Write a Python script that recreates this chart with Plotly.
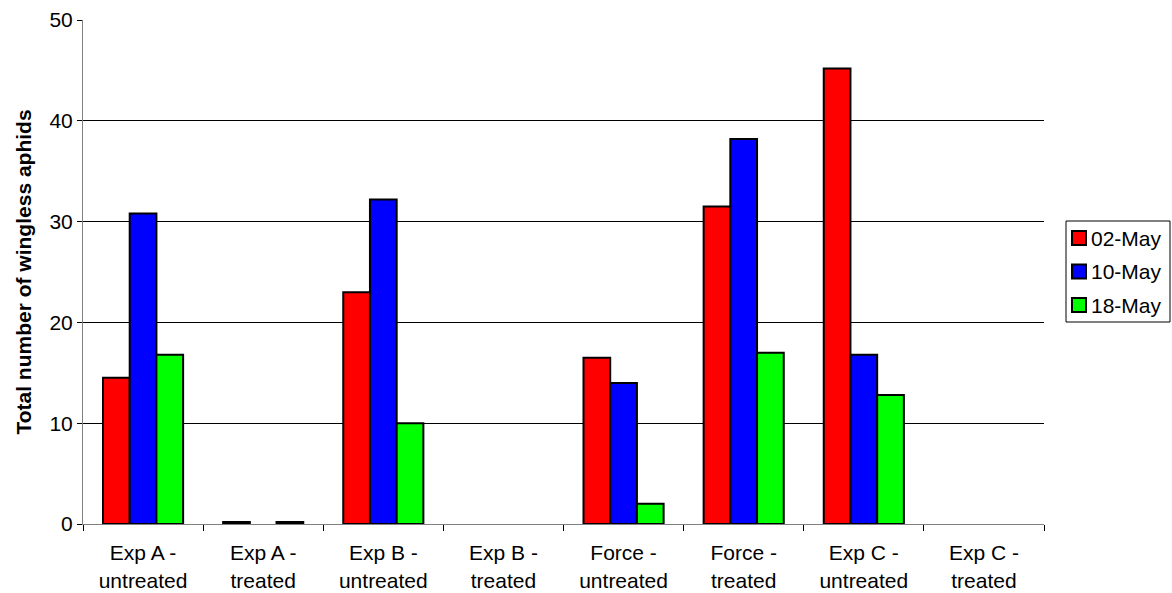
import plotly.graph_objects as go

# Treatment groups (two-line category labels)
categories = [
    "Exp A -<br>untreated", "Exp A -<br>treated",
    "Exp B -<br>untreated", "Exp B -<br>treated",
    "Force -<br>untreated", "Force -<br>treated",
    "Exp C -<br>untreated", "Exp C -<br>treated",
]

# Wingless aphid counts per sampling date
may_02 = [14.5, 0.2, 23.0, 0, 16.5, 31.5, 45.2, 0]
may_10 = [30.8, 0, 32.2, 0, 14.0, 38.2, 16.8, 0]
may_18 = [16.8, 0.2, 10.0, 0, 2.0, 17.0, 12.8, 0]

series_names = ["02-May", "10-May", "18-May"]
series_values = [may_02, may_10, may_18]
series_colours = ["#ff0000", "#0000ff", "#00ff00"]

y_ticks = [0, 10, 20, 30, 40, 50]

FONT = "Liberation Sans, Arial, sans-serif"
W, H = 1172, 593
M_L, M_R, M_T, M_B = 83, 128, 20, 69
PLOT_W = W - M_L - M_R
PLOT_H = H - M_T - M_B


def px_x(px):
    """Page x pixel -> paper coordinate."""
    return (px - M_L) / PLOT_W


def px_y(py):
    """Page y pixel (from top) -> paper coordinate."""
    return (H - M_B - py) / PLOT_H


fig = go.Figure()
for name, values, colour in zip(series_names, series_values, series_colours):
    fig.add_trace(go.Bar(
        x=categories,
        y=values,
        name=name,
        marker=dict(
            color=colour,
            # empty (zero) bars get no outline
            line=dict(color="#000000", width=[2 if v else 0 for v in values]),
        ),
        showlegend=False,
    ))

# Boxed legend on the right: swatch + date label per series
shapes = [dict(
    type="rect", xref="paper", yref="paper",
    x0=px_x(1066), x1=px_x(1170), y0=px_y(322), y1=px_y(221),
    line=dict(color="#000000", width=1), fillcolor="#ffffff", layer="above",
)]
annotations = []
LEG_TOP, LEG_STEP, SW = 238, 33.5, 14
for i, (name, colour) in enumerate(zip(series_names, series_colours)):
    cy = LEG_TOP + i * LEG_STEP
    shapes.append(dict(
        type="rect", xref="paper", yref="paper",
        x0=px_x(1072), x1=px_x(1072 + SW),
        y0=px_y(cy + SW / 2), y1=px_y(cy - SW / 2),
        line=dict(color="#000000", width=2), fillcolor=colour, layer="above",
    ))
    annotations.append(dict(
        text=name, xref="paper", yref="paper",
        x=px_x(1089), y=px_y(cy), xanchor="left", yanchor="middle",
        showarrow=False, font=dict(family=FONT, size=21, color="#000000"),
    ))

fig.update_layout(
    width=W,
    height=H,
    margin=dict(l=M_L, r=M_R, t=M_T, b=M_B, autoexpand=False),
    paper_bgcolor="#ffffff",
    plot_bgcolor="#ffffff",
    barmode="group",
    bargap=0.333,
    bargroupgap=0,
    font=dict(family=FONT, size=21, color="#000000"),
    showlegend=False,
    shapes=shapes,
    annotations=annotations,
    xaxis=dict(
        type="category",
        automargin=False,
        tickson="boundaries",
        ticks="outside",
        ticklen=6,
        tickcolor="#000000",
        showline=True,
        linecolor="#808080",
        linewidth=1,
        showgrid=False,
        ticklabelstandoff=10,
        tickfont=dict(family=FONT, size=21, color="#000000"),
        fixedrange=True,
    ),
    yaxis=dict(
        range=[0, 50],
        automargin=False,
        tickvals=y_ticks,
        ticktext=[str(v) for v in y_ticks],
        ticks="outside",
        ticklen=5,
        tickcolor="#000000",
        showline=True,
        linecolor="#808080",
        linewidth=1,
        showgrid=True,
        gridcolor="#000000",
        gridwidth=1,
        zeroline=False,
        tickfont=dict(family=FONT, size=21, color="#000000"),
        title=dict(
            text="<b>Total number of wingless aphids</b>",
            font=dict(family=FONT, size=21, color="#000000"),
            standoff=12,
        ),
        fixedrange=True,
    ),
)

fig.write_html("out.html", config={"displayModeBar": False})
